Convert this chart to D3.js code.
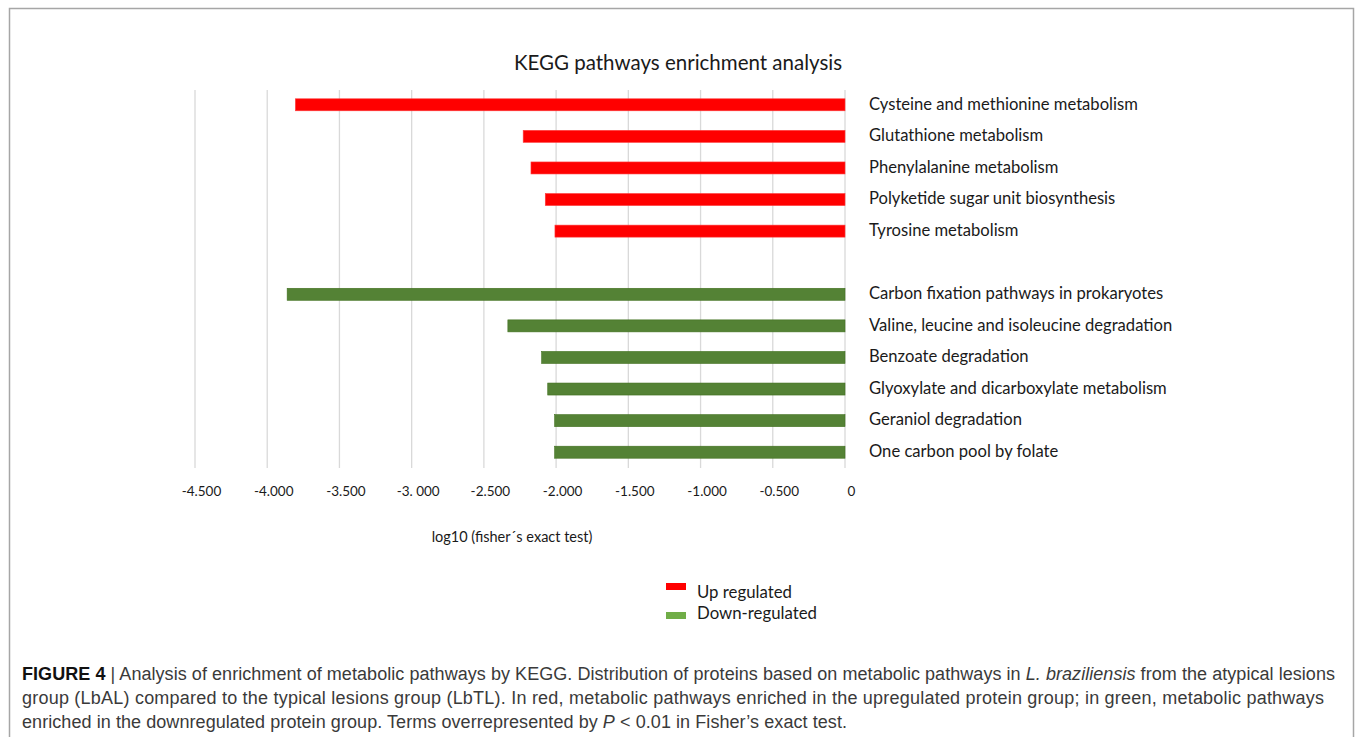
<!DOCTYPE html>
<html><head><meta charset="utf-8">
<script src="https://cdn.jsdelivr.net/npm/d3@7"></script>
<style>body{margin:0;background:#fff;} svg{display:block;}</style>
</head><body>
<svg id="chart" width="1355" height="737"></svg>
<script>
const upCategories = ["Cysteine and methionine metabolism","Glutathione metabolism","Phenylalanine metabolism","Polyketide sugar unit biosynthesis","Tyrosine metabolism"];
const upValues = [-3.805,-2.228,-2.174,-2.075,-2.008];
const downCategories = ["Carbon fixation pathways in prokaryotes","Valine, leucine and isoleucine degradation","Benzoate degradation","Glyoxylate and dicarboxylate metabolism","Geraniol degradation","One carbon pool by folate"];
const downValues = [-3.862,-2.334,-2.100,-2.058,-2.010,-2.010];
const tickValues = [-4.5,-4,-3.5,-3,-2.5,-2,-1.5,-1,-0.5,0];
const tickLabels = ["-4.500","-4.000","-3.500","-3. 000","-2.500","-2.000","-1.500","-1.000","-0.500","0"];
const legendLabels = ["Up regulated","Down-regulated"];

const svg = d3.select("#chart");
const chartFont = "Lato, 'Open Sans', sans-serif";

// frame
svg.append("path").attr("d","M9.5,737 V8.5 H1353.5 V737").attr("fill","none").attr("stroke","#a6a6a6").attr("stroke-width",1.5);

const x = d3.scaleLinear().domain([-4.5,0]).range([195,845]);
const slots = [...upCategories, "", ...downCategories];
const y = d3.scaleBand().domain(slots.map((d,i)=>i)).range([89,468]).paddingInner(0.62).paddingOuter(0.31);

// gridlines
svg.append("g").selectAll("line").data(tickValues).join("line")
  .attr("x1",d=>x(d)).attr("x2",d=>x(d)).attr("y1",90).attr("y2",468)
  .attr("stroke","#d9d9d9").attr("stroke-width",1.3);

// bars
const barData = upCategories.map((c,i)=>({c,v:upValues[i],slot:i,col:"#ff0000",stroke:"#ff3b3b"}))
  .concat(downCategories.map((c,i)=>({c,v:downValues[i],slot:i+6,col:"#548235",stroke:"#41701f"})));
svg.append("g").selectAll("rect").data(barData).join("rect")
  .attr("x",d=>x(d.v)).attr("width",d=>x(0)-x(d.v))
  .attr("y",d=>y(d.slot)).attr("height",y.bandwidth())
  .attr("fill",d=>d.col).attr("stroke",d=>d.stroke).attr("stroke-width",0.6);

// category labels
svg.append("g").selectAll("text").data(barData).join("text")
  .attr("x",869).attr("y",d=>y(d.slot)+y.bandwidth()/2-1).attr("dy","0.35em")
  .attr("font-family",chartFont).attr("font-size",16.6).attr("fill","#1a1a1a")
  .text(d=>d.c);

// x axis
const xAxis = d3.axisBottom(x).tickValues(tickValues).tickSize(0).tickPadding(0)
  .tickFormat((d,i)=>tickLabels[i]);
const ga = svg.append("g").attr("transform","translate(6,486)").call(xAxis);
ga.select(".domain").remove();
ga.selectAll("text").attr("font-family",chartFont).attr("font-size",13.5).attr("fill","#1a1a1a");

svg.append("text").attr("x",512).attr("y",542).attr("text-anchor","middle")
  .attr("font-family",chartFont).attr("font-size",14.5).attr("fill","#1a1a1a")
  .text("log10 (fisher´s exact test)");

// title
svg.append("text").attr("x",678).attr("y",70).attr("text-anchor","middle")
  .attr("font-family",chartFont).attr("font-size",20.5).attr("fill","#1a1a1a")
  .text("KEGG pathways enrichment analysis");

// legend
const lg = svg.append("g");
const legColors = ["#ff0000","#70ad47"];
legendLabels.forEach((l,i)=>{
  lg.append("rect").attr("x",666).attr("y",583+i*29).attr("width",20).attr("height",7).attr("fill",legColors[i]);
  lg.append("text").attr("x",697).attr("y",592+i*21).attr("dy","0.35em")
    .attr("font-family",chartFont).attr("font-size",16.8).attr("fill","#1a1a1a").text(l);
});

// caption
const capFont = "'Liberation Sans', Arial, sans-serif";
const cap = svg.append("g").attr("font-family",capFont).attr("font-size",18).attr("fill","#3a3a3a");
const l1 = cap.append("text").attr("x",22).attr("y",680).attr("textLength",1313).attr("lengthAdjust","spacing");
l1.append("tspan").attr("font-weight","bold").attr("fill","#111").text("FIGURE 4");
l1.append("tspan").text(" | Analysis of enrichment of metabolic pathways by KEGG. Distribution of proteins based on metabolic pathways in ");
l1.append("tspan").attr("font-style","italic").text("L. braziliensis");
l1.append("tspan").text(" from the atypical lesions");
cap.append("text").attr("x",22).attr("y",704).attr("textLength",1302).attr("lengthAdjust","spacing")
  .text("group (LbAL) compared to the typical lesions group (LbTL). In red, metabolic pathways enriched in the upregulated protein group; in green, metabolic pathways");
const l3 = cap.append("text").attr("x",22).attr("y",728).attr("textLength",825).attr("lengthAdjust","spacing");
l3.append("tspan").text("enriched in the downregulated protein group. Terms overrepresented by ");
l3.append("tspan").attr("font-style","italic").text("P");
l3.append("tspan").text(" < 0.01 in Fisher’s exact test.");
</script>
</body></html>
